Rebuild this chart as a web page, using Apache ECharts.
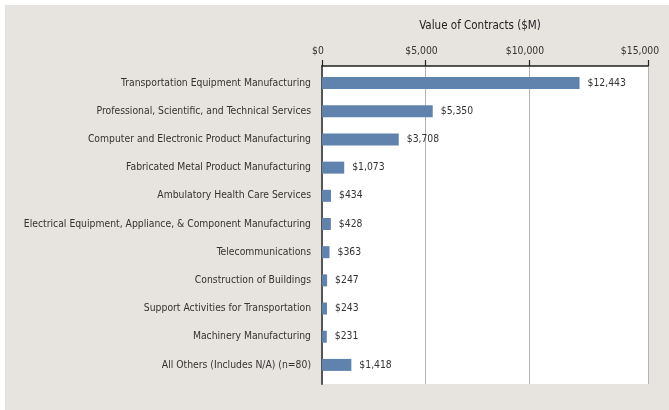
<!DOCTYPE html>
<html>
<head>
<meta charset="utf-8">
<script src="https://cdn.jsdelivr.net/npm/echarts@6/dist/echarts.min.js"></script>
<style>
  html, body { margin: 0; padding: 0; background: #fff; }
  #chart { position: absolute; left: 5px; top: 5px; width: 664px; height: 405px; }
</style>
</head>
<body>
<div id="chart"></div>
<script>
// categories, top to bottom
const categories = [
  'Transportation Equipment Manufacturing',
  'Professional, Scientific, and Technical Services',
  'Computer and Electronic Product Manufacturing',
  'Fabricated Metal Product Manufacturing',
  'Ambulatory Health Care Services',
  'Electrical Equipment, Appliance, & Component Manufacturing',
  'Telecommunications',
  'Construction of Buildings',
  'Support Activities for Transportation',
  'Machinery Manufacturing',
  'All Others (Includes N/A) (n=80)'
]
// value of contracts, $M
const values = [12443, 5350, 3708, 1073, 434, 428, 363, 247, 243, 231, 1418]
const tickValues = [0, 5000, 10000]
const lastTick = 15000
// the plot in the reference runs a bit past $15,000
const axisMax = 15750

const FONT = "'DejaVu Sans Condensed', 'Liberation Sans Narrow', sans-serif"
const FS = 10.3
const money = v => '$' + v.toLocaleString('en-US')

const chart = echarts.init(document.getElementById('chart'))

const option = {
  backgroundColor: '#e7e3de',
  animation: false,
  textStyle: { fontFamily: FONT },
  grid: [
    // white plot panel + axis
    { left: 317, right: 21, top: 61, bottom: 26, show: true, backgroundColor: '#fff', borderWidth: 0, outerBoundsMode: 'none' },
    // bars
    { left: 317, right: 21, top: 64, bottom: 31, outerBoundsMode: 'none' },
    // only for the $15,000 label at the panel edge
    { left: 317, right: 21, top: 61, height: 10, outerBoundsMode: 'none' }
  ],
  xAxis: [
    {
      gridIndex: 0,
      type: 'value',
      position: 'top',
      min: 0,
      max: axisMax,
      name: 'Value of Contracts ($M)',
      nameLocation: 'middle',
      nameGap: 34,
      nameTextStyle: { color: '#222', fontSize: 11.5, fontFamily: FONT, padding: [0, 10, 0, 0] },
      axisLine: { show: true, onZero: false, lineStyle: { color: '#222', width: 1.5 } },
      axisTick: { show: true, length: 6, customValues: tickValues.concat([axisMax]), lineStyle: { color: '#222', width: 1.2 } },
      axisLabel: { customValues: tickValues, formatter: money, color: '#333', fontSize: FS, margin: 10, fontFamily: FONT, padding: [0, 8, 0, 0] },
      splitLine: { show: true, lineStyle: { color: '#b4b4b8', width: 1 } }
    },
    {
      gridIndex: 1,
      type: 'value',
      min: 0,
      max: axisMax,
      show: false
    },
    {
      gridIndex: 2,
      type: 'value',
      position: 'top',
      min: 0,
      max: lastTick,
      axisLine: { show: false, onZero: false },
      axisTick: { show: false },
      splitLine: { show: false },
      axisLabel: { customValues: [lastTick], formatter: money, color: '#333', fontSize: FS, margin: 10, fontFamily: FONT, padding: [0, 16, 0, 0] }
    }
  ],
  yAxis: [
    {
      gridIndex: 0,
      type: 'value',
      min: 0,
      max: 1,
      axisLine: { show: true, onZero: false, lineStyle: { color: '#555', width: 2 } },
      axisTick: { show: false },
      axisLabel: { show: false },
      splitLine: { show: false }
    },
    {
      gridIndex: 1,
      type: 'category',
      inverse: true,
      data: categories,
      axisLine: { show: false },
      axisTick: { show: false },
      axisLabel: { color: '#333', fontSize: FS, margin: 11, fontFamily: FONT }
    },
    {
      gridIndex: 2,
      type: 'value',
      show: false
    }
  ],
  series: [
    {
      type: 'bar',
      xAxisIndex: 1,
      yAxisIndex: 1,
      data: values,
      barWidth: 12,
      itemStyle: { color: '#6083ad' },
      label: {
        show: true,
        position: 'right',
        distance: 8,
        formatter: p => money(p.value),
        color: '#333',
        fontSize: FS,
        fontFamily: FONT
      }
    }
  ]
}

chart.setOption(option)
</script>
</body>
</html>
